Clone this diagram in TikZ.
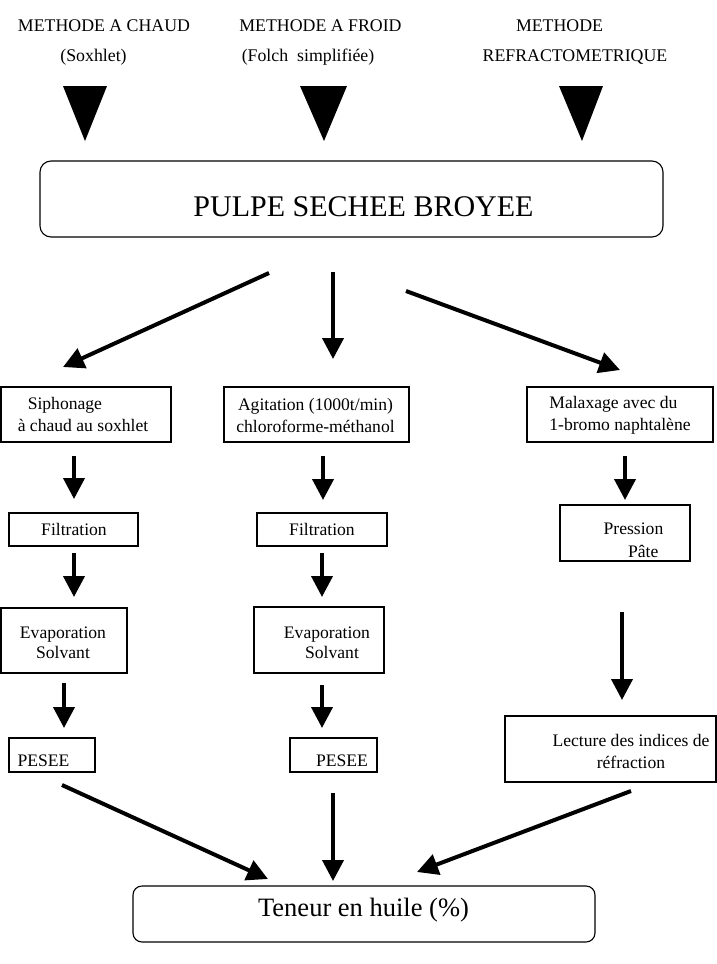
\documentclass[tikz,border=0pt]{standalone}
\usepackage{fontspec}
\setmainfont{Liberation Serif}
\usetikzlibrary{arrows.meta}
\begin{document}
\begin{tikzpicture}[x=1pt,y=-1pt,
  box/.style={draw, line width=1.1pt, rectangle, inner sep=0pt},
  rbox/.style={box, rounded corners=11pt},
  txt/.style={inner sep=0pt, font=\fontsize{17.6}{22}\selectfont},
  ttl/.style={inner sep=0pt, font=\fontsize{17.8}{22}\selectfont},
  arr/.style={line width=4pt, -{Triangle[width=21pt,length=21pt]}},
  tri/.style={fill=black}]
\useasboundingbox (0,0) rectangle (717,964);

% titles
\node[ttl] (t1a) at (104,25.5) {METHODE A CHAUD};
\node[ttl] (t1b) at (93.5,57) {(Soxhlet)};
\node[ttl] (t2a) at (320.5,25.5) {METHODE A FROID};
\node[ttl] (t2b) at (308,57) {(Folch~~simplifiée)};
\node[ttl] (t3a) at (559.5,25.5) {METHODE};
\node[ttl] (t3b) at (575,57) {REFRACTOMETRIQUE};

% filled triangles
\fill[tri] (63,86) -- (107,86) -- (85,141) -- cycle;
\fill[tri] (300,86) -- (347,86) -- (324,141) -- cycle;
\fill[tri] (559,86) -- (603,86) -- (582,141) -- cycle;

% boxes
\node[rbox, minimum width=623pt, minimum height=76pt] (pulpe) at (351.5,199) {};
\node[inner sep=0pt, font=\fontsize{30}{36}\selectfont] (pulpeT) at (363.5,207) {PULPE SECHEE BROYEE};

\node[box, minimum width=170pt, minimum height=55pt] (sipho) at (86,414.5) {};
\node[txt, align=left] (siphoT) at (83,414) {\hspace*{10pt}Siphonage\\à chaud au soxhlet};

\node[box, minimum width=185pt, minimum height=55pt] (agit) at (316.5,414.5) {};
\node[txt, align=center] (agitT) at (315.5,415) {Agitation (1000t/min)\\chloroforme-méthanol};

\node[box, minimum width=186pt, minimum height=55pt] (malax) at (620,414.5) {};
\node[txt, align=left] (malaxT) at (620,415) {Malaxage avec du\\1-bromo naphtalène};

\node[box, minimum width=129pt, minimum height=33pt] (filt1) at (73.5,529.5) {};
\node[txt] (filt1T) at (74,529) {Filtration};
\node[box, minimum width=130pt, minimum height=33pt] (filt2) at (322,529.5) {};
\node[txt] (filt2T) at (322,529) {Filtration};

\node[box, minimum width=130pt, minimum height=56pt] (press) at (625,533) {};
\node[txt, align=right, font=\fontsize{17.6}{23}\selectfont] (pressT) at (633.5,540) {Pression\\Pâte\hspace*{5pt}};

\node[box, minimum width=126pt, minimum height=65pt] (evap1) at (64,640.5) {};
\node[txt, align=center, font=\fontsize{17.6}{20}\selectfont] (evap1T) at (63,643) {Evaporation\\Solvant};
\node[box, minimum width=130pt, minimum height=66pt] (evap2) at (319,640) {};
\node[txt, align=center, font=\fontsize{17.6}{20}\selectfont] (evap2T) at (327,643) {Evaporation\\\hspace*{10pt}Solvant};

\node[box, minimum width=86pt, minimum height=34pt] (pes1) at (52,755) {};
\node[txt] (pes1T) at (43.5,761) {PESEE};
\node[box, minimum width=87pt, minimum height=34pt] (pes2) at (333.5,755) {};
\node[txt] (pes2T) at (342,761) {PESEE};

\node[box, minimum width=211pt, minimum height=66pt] (lect) at (610.5,749) {};
\node[txt, align=center] (lectT) at (631,751) {Lecture des indices de\\réfraction};

\node[rbox, rounded corners=9pt, minimum width=462pt, minimum height=56pt] (ten) at (364,914) {};
\node[inner sep=0pt, font=\fontsize{26.5}{32}\selectfont] (tenT) at (363.5,910) {Teneur en huile (\%)};

% connector end points
\coordinate (a1s) at (269,273); \coordinate (a1e) at (63,367);
\coordinate (a2s) at (333,272); \coordinate (a2e) at (333,359);
\coordinate (a3s) at (406,291); \coordinate (a3e) at (620,370);

\coordinate (c1s) at (74,456); \coordinate (c1e) at (74,499);
\coordinate (c2s) at (74,553); \coordinate (c2e) at (74,597);
\coordinate (c3s) at (64,683); \coordinate (c3e) at (64,728);

\coordinate (d1s) at (323,456); \coordinate (d1e) at (323,500);
\coordinate (d2s) at (322,553); \coordinate (d2e) at (322,597);
\coordinate (d3s) at (322,685); \coordinate (d3e) at (322,728);

\coordinate (e1s) at (625,456); \coordinate (e1e) at (625,500);
\coordinate (e2s) at (622,612); \coordinate (e2e) at (622,700);

\coordinate (b1s) at (62,785); \coordinate (b1e) at (268,879);
\coordinate (b2s) at (333,793); \coordinate (b2e) at (333,881);
\coordinate (b3s) at (631,791); \coordinate (b3e) at (417,872);

% arrows
\draw[arr] (a1s) -- (a1e);
\draw[arr] (a2s) -- (a2e);
\draw[arr] (a3s) -- (a3e);
\draw[arr] (c1s) -- (c1e);
\draw[arr] (c2s) -- (c2e);
\draw[arr] (c3s) -- (c3e);
\draw[arr] (d1s) -- (d1e);
\draw[arr] (d2s) -- (d2e);
\draw[arr] (d3s) -- (d3e);
\draw[arr] (e1s) -- (e1e);
\draw[arr] (e2s) -- (e2e);
\draw[arr] (b1s) -- (b1e);
\draw[arr] (b2s) -- (b2e);
\draw[arr] (b3s) -- (b3e);
\end{tikzpicture}
\end{document}
